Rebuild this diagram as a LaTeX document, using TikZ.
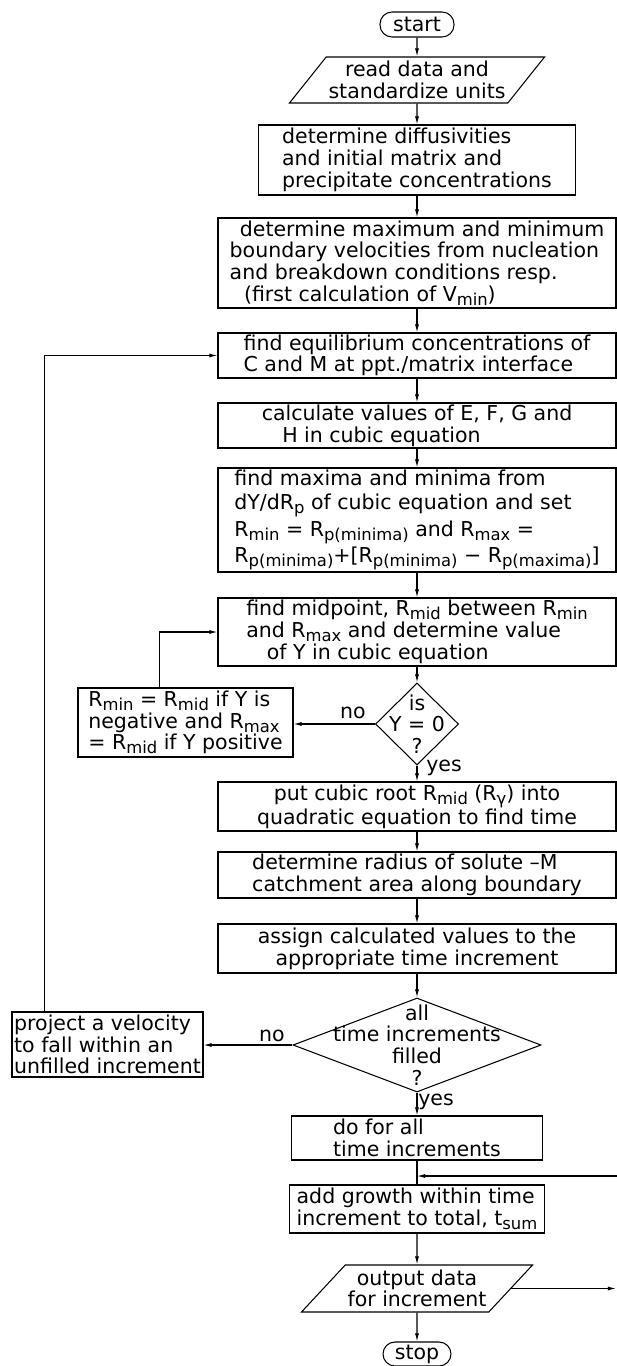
\documentclass[tikz,border=0pt]{standalone}
\usepackage{fontspec}
\setmainfont{DejaVu Sans}
\usetikzlibrary{shapes.geometric,arrows.meta}
\newcommand{\lo}[1]{\raisebox{-0.35ex}{\fontsize{14}{14}\selectfont #1}}

\begin{document}
\begin{tikzpicture}[x=0.03cm,y=-0.03cm,line width=0.9pt,font=\fontsize{17.5}{18.5}\selectfont,
  box/.style={draw,rectangle,inner sep=1.5pt,align=left},
  term/.style={draw,rectangle,rounded corners=0.36cm,inner sep=2pt},
  io/.style={draw,trapezium,trapezium stretches,inner sep=2pt,align=center},
  test/.style={draw,diamond,inner sep=0pt},
  arr/.style={-{Latex[length=7pt,width=3.5pt]}},
  lbl/.style={inner sep=1pt}]
\useasboundingbox (0,0) rectangle (617,1366);
\node[term,minimum width=2.22cm,minimum height=0.75cm] (start) at (417,24.5) {start};
\node[io,trapezium left angle=49,trapezium right angle=131,minimum width=7.5cm,minimum height=1.38cm] (read) at (417,80) {read data and\\standardize units};
\node[box,minimum width=9.51cm,minimum height=2.1cm] (diff) at (417,160) {determine  diffusivities\\and initial  matrix and\\precipitate  concentrations};
\node[box,minimum width=11.94cm,minimum height=2.7cm] (bound) at (417,263) {\hspace{0.5em}determine maximum and minimum\\boundary velocities from nucleation\\and breakdown conditions resp.\\\hspace{0.7em}(first calculation of V\lo{min})};
\node[box,minimum width=11.94cm,minimum height=1.35cm] (equil) at (417,355.5) {find equilibrium concentrations of\\C and M at ppt./matrix interface};
\node[box,minimum width=11.94cm,minimum height=1.35cm] (calc) at (417,425.5) {calculate values of E, F, G and\\\hspace{1em}H in cubic equation};
\node[box,minimum width=11.94cm,minimum height=3.12cm] (maxima) at (417,520) {find maxima and minima from\\[2pt]dY/dR\lo{p} of cubic equation and set\\[2pt]R\lo{min} = R\lo{p(minima)} and R\lo{max} =\\[2pt]R\lo{p(minima)}+[R\lo{p(minima)} − R\lo{p(maxima)}]};
\node[box,minimum width=11.94cm,minimum height=2.04cm] (mid) at (417,632) {find midpoint, R\lo{mid} between R\lo{min}\\and R\lo{max} and determine value\\\hspace{1em}of Y in cubic equation};
\node[test,minimum width=2.49cm,minimum height=2.46cm,label={[align=center,inner sep=0pt]center:{is\\Y = 0\\?}}] (isy) at (417,724) {};
\node[box,minimum width=6.45cm,minimum height=2.07cm] (rmin) at (185.5,722.5) {R\lo{min} = R\lo{mid} if Y is\\negative and R\lo{max}\\= R\lo{mid} if Y positive};
\node[box,align=center,minimum width=11.94cm,minimum height=1.47cm] (cubic) at (417,806.5) {put cubic root R\lo{mid} (R\lo{γ}) into\\quadratic equation to find time};
\node[box,minimum width=11.94cm,minimum height=1.38cm] (radius) at (417,875) {determine radius of solute –M\\catchment area along boundary};
\node[box,align=center,minimum width=11.94cm,minimum height=1.47cm] (assign) at (417,948.5) {assign calculated values to the\\appropriate time increment};
\node[test,minimum width=7.44cm,minimum height=2.82cm,label={[align=center,inner sep=0pt]center:{all\\time increments\\filled\\?}}] (fill) at (417,1045) {};
\node[box,minimum width=5.73cm,minimum height=1.95cm] (project) at (107.5,1044.5) {project a velocity\\to fall within an\\unfilled increment};
\node[box,minimum width=7.53cm,minimum height=1.32cm] (doall) at (417,1138) {do for all\\time increments};
\node[box,minimum width=7.65cm,minimum height=1.44cm] (add) at (417,1209) {add growth within time\\increment to total, t\lo{sum}};
\node[io,trapezium left angle=44,trapezium right angle=136,minimum width=6.27cm,minimum height=1.41cm] (out) at (417,1288.5) {output data\\for increment};
\node[term,minimum width=2.04cm,minimum height=0.72cm] (stop) at (417,1354) {stop};
\coordinate (outR) at (616,1291);
\coordinate (inR) at (617,1176);
\draw[arr] (start) -- (read);
\draw[arr] (read) -- (diff);
\draw[arr] (diff) -- (bound);
\draw[arr] (bound) -- (equil);
\draw[arr] (equil) -- (calc);
\draw[arr] (calc) -- (maxima);
\draw[arr] (maxima) -- (mid);
\draw[arr] (mid) -- (isy);
\draw[arr] (isy) -- (cubic);
\draw[arr] (isy.west) -- (isy.west -| rmin.east);
\draw[arr] ([xshift=2.46cm]rmin.north west) |- (mid.west);
\draw[arr] (cubic) -- (radius);
\draw[arr] (radius) -- (assign);
\draw[arr] (assign) -- (fill);
\draw[arr] (fill.west) -- (fill.west -| project.east);
\draw[arr] ([xshift=0.99cm]project.north west) |- (equil.west);
\draw[arr] (fill) -- (doall);
\draw (doall) -- (add);
\draw[arr] (inR) -- (inR -| add.north);
\draw[arr] (add) -- (out);
\draw[arr] (out.east) -- (out.east -| outR);
\draw[arr] (out) -- (stop);
\node[lbl] (no1) at (353,713) {no};
\node[lbl] (yes1) at (444,768) {yes};
\node[lbl] (no2) at (272,1036) {no};
\node[lbl] (yes2) at (436,1102) {yes};
\end{tikzpicture}
\end{document}
